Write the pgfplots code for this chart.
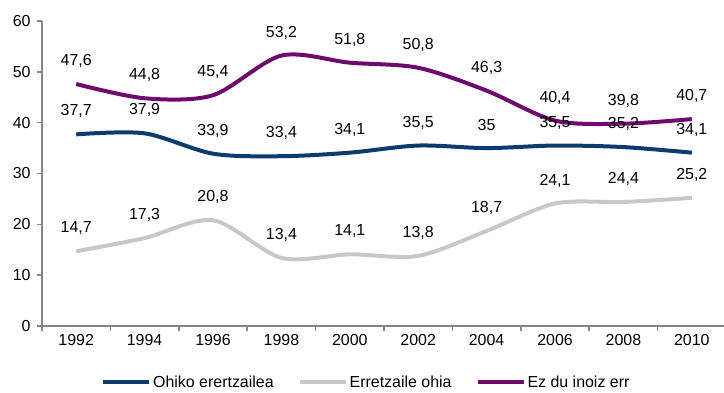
\documentclass[border=0pt]{standalone}
\usepackage{pgfplots}
\pgfplotsset{compat=1.18}
\usepackage{fontspec}
\setmainfont{Liberation Sans}
\definecolor{cblue}{RGB}{12,60,110}
\definecolor{cgray}{RGB}{200,200,200}
\definecolor{cpurple}{RGB}{110,10,110}
\definecolor{caxis}{RGB}{134,134,134}
\pgfplotstableread{
year ohiko erretzaile ez
1992 37.7 14.7 47.6
1994 37.9 17.3 44.8
1996 33.9 20.8 45.4
1998 33.4 13.4 53.2
2000 34.1 14.1 51.8
2002 35.5 13.8 50.8
2004 35.0 18.7 46.3
2006 35.5 24.1 40.4
2008 35.2 24.4 39.8
2010 34.1 25.2 40.7
}\datatable
\newcommand\chartfont{\fontsize{16}{19}\selectfont}
\begin{document}
\begin{tikzpicture}[x=1bp,y=1bp]
\path[use as bounding box] (-42,-66) rectangle (682,326);
\begin{axis}[
  at={(0,0)}, anchor=origin,
  scale only axis, width=684bp, height=305bp,
  xmin=1991, xmax=2011, ymin=0, ymax=60,
  axis lines*=left,
  axis line style={caxis, line width=1.5bp, -},
  xtick={1991,1993,...,2011},
  xticklabels={},
  extra x ticks={1992,1994,...,2010},
  extra x tick labels={1992,1994,1996,1998,2000,2002,2004,2006,2008,2010},
  extra x tick style={major tick length=0pt, xticklabel style={yshift=-5bp}},
  ytick={0,10,...,60},
  tick style={caxis, line width=1.5bp},
  major tick length=5bp,
  tick align=outside,
  yticklabel style={xshift=-3bp},
  tick label style={font=\chartfont},
  /pgf/number format/.cd, use comma, assume math mode=true, 1000 sep={},
  /pgfplots/.cd,
  nodes near coords,
  every node near coord/.style={anchor=center, yshift=23bp, text=black, font=\chartfont},
  legend columns=3,
  legend style={draw=none, at={(0,0)}, anchor=west, xshift=56bp, yshift=-56bp, font=\chartfont,
    /tikz/every even column/.append style={column sep=22bp}},
  legend cell align=left,
  legend image code/.code={\draw[#1, line width=4bp] (0,0) -- (46bp,0);},
  clip=false,
]
\addplot[cblue, line width=4bp, smooth, tension=0.5] table[x=year, y=ohiko] {\datatable};
\addlegendentry{Ohiko erertzailea}
\addplot[cgray, line width=4bp, smooth, tension=0.5] table[x=year, y=erretzaile] {\datatable};
\addlegendentry{Erretzaile ohia}
\addplot[cpurple, line width=4bp, smooth, tension=0.5] table[x=year, y=ez] {\datatable};
\addlegendentry{Ez du inoiz err}
\end{axis}
\end{tikzpicture}
\end{document}
